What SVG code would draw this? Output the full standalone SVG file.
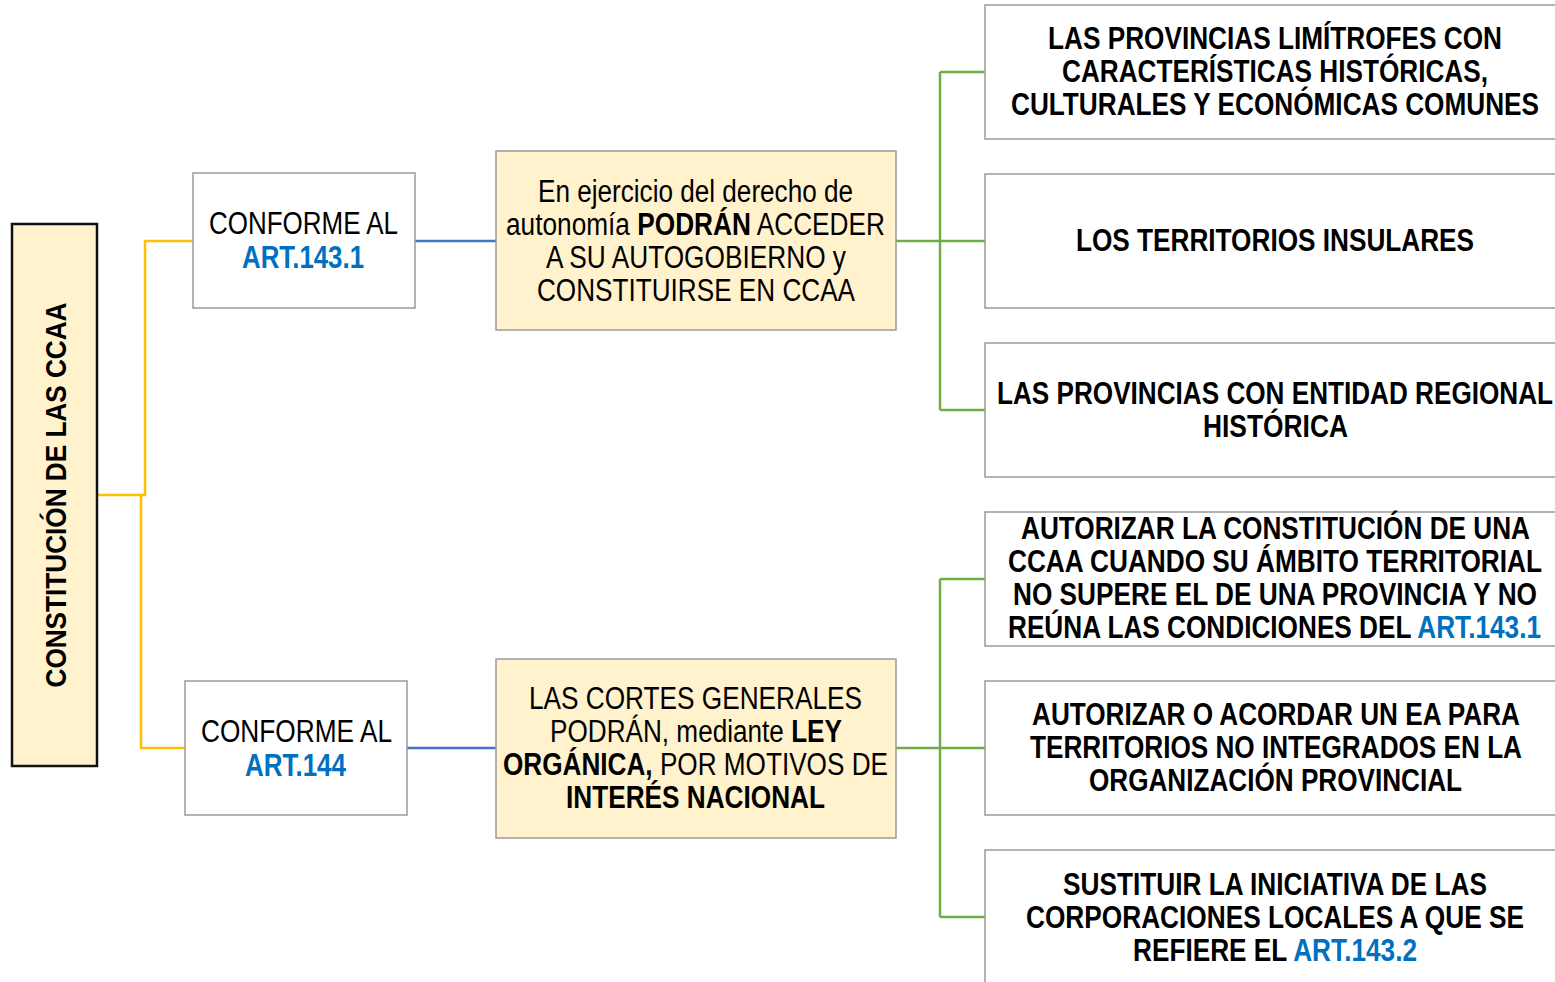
<svg xmlns="http://www.w3.org/2000/svg" width="1555" height="982" viewBox="0 0 1555 982">
<style>
text{font-family:"Liberation Sans",Arial,sans-serif;font-size:31px;fill:#000;text-anchor:middle;dominant-baseline:central}
.b{font-weight:bold}
.blue{fill:#0070C0;font-weight:bold}
.box{fill:#fff;stroke:#9a9a9a;stroke-width:1.5}
.ybox{fill:#FFF2CC;stroke:#9a9a9a;stroke-width:1.5}
.yl{fill:none;stroke:#FFC000;stroke-width:2.5}
.bl{fill:none;stroke:#4472C4;stroke-width:2.5}
.gl{fill:none;stroke:#70AD47;stroke-width:2.5}
</style>
<rect width="1555" height="982" fill="#fff"/>
<g id="connectors">
<path class="yl" d="M97,495 H145 V241 H193"/>
<path class="yl" d="M141,495 V748 H185"/>
<path class="bl" d="M415,241 H496"/>
<path class="bl" d="M407,748 H496"/>
<path class="gl" d="M896,241 H985 M940,72 V410 M940,72 H985 M940,410 H985"/>
<path class="gl" d="M896,748 H985 M940,579 V917 M940,579 H985 M940,917 H985"/>
</g>
<g id="root">
<rect x="12" y="224" width="85" height="542" fill="#FFF2CC" stroke="#111" stroke-width="2.5"/>
<text class="b" transform="translate(55,495) rotate(-90)" style="font-size:30px" textLength="385" lengthAdjust="spacingAndGlyphs">CONSTITUCIÓN DE LAS CCAA</text>
</g>
<g id="art1431">
<rect class="box" x="193" y="173" width="222" height="135"/>
<text x="303.5" y="223" textLength="189" lengthAdjust="spacingAndGlyphs">CONFORME AL</text>
<text class="blue" x="303" y="257" textLength="122" lengthAdjust="spacingAndGlyphs">ART.143.1</text>
</g>
<g id="podran">
<rect class="ybox" x="496" y="151" width="400" height="179"/>
<text x="695.5" y="191" textLength="315" lengthAdjust="spacingAndGlyphs">En ejercicio del derecho de</text>
<text x="695.5" y="224" textLength="379" lengthAdjust="spacingAndGlyphs">autonomía <tspan class="b">PODRÁN</tspan> ACCEDER</text>
<text x="696" y="257" textLength="300" lengthAdjust="spacingAndGlyphs">A SU AUTOGOBIERNO y</text>
<text x="696" y="290" textLength="318" lengthAdjust="spacingAndGlyphs">CONSTITUIRSE EN CCAA</text>
</g>
<g id="art144">
<rect class="box" x="185" y="681" width="222" height="134"/>
<text x="296.5" y="731" textLength="191" lengthAdjust="spacingAndGlyphs">CONFORME AL</text>
<text class="blue" x="295.5" y="765" textLength="101" lengthAdjust="spacingAndGlyphs">ART.144</text>
</g>
<g id="cortes">
<rect class="ybox" x="496" y="659" width="400" height="179"/>
<text x="695.5" y="698" textLength="333" lengthAdjust="spacingAndGlyphs">LAS CORTES GENERALES</text>
<text x="696" y="731" textLength="292" lengthAdjust="spacingAndGlyphs">PODRÁN, mediante <tspan class="b">LEY</tspan></text>
<text x="695.5" y="764" textLength="385" lengthAdjust="spacingAndGlyphs"><tspan class="b">ORGÁNICA,</tspan> POR MOTIVOS DE</text>
<text class="b" x="695.5" y="797" textLength="259" lengthAdjust="spacingAndGlyphs">INTERÉS NACIONAL</text>
</g>
<g id="limitrofes">
<rect class="box" x="985" y="5" width="580" height="134"/>
<text class="b" x="1275" y="38" textLength="454" lengthAdjust="spacingAndGlyphs">LAS PROVINCIAS LIMÍTROFES CON</text>
<text class="b" x="1275" y="71" textLength="426" lengthAdjust="spacingAndGlyphs">CARACTERÍSTICAS HISTÓRICAS,</text>
<text class="b" x="1275" y="104" textLength="528" lengthAdjust="spacingAndGlyphs">CULTURALES Y ECONÓMICAS COMUNES</text>
</g>
<g id="insulares">
<rect class="box" x="985" y="174" width="580" height="134"/>
<text class="b" x="1275" y="240" textLength="398" lengthAdjust="spacingAndGlyphs">LOS TERRITORIOS INSULARES</text>
</g>
<g id="entidad">
<rect class="box" x="985" y="343" width="580" height="134"/>
<text class="b" x="1275" y="393" textLength="556" lengthAdjust="spacingAndGlyphs">LAS PROVINCIAS CON ENTIDAD REGIONAL</text>
<text class="b" x="1275.5" y="426" textLength="145" lengthAdjust="spacingAndGlyphs">HISTÓRICA</text>
</g>
<g id="autorizar">
<rect class="box" x="985" y="512" width="580" height="134"/>
<text class="b" x="1275.5" y="528" textLength="509" lengthAdjust="spacingAndGlyphs">AUTORIZAR LA CONSTITUCIÓN DE UNA</text>
<text class="b" x="1275" y="561" textLength="534" lengthAdjust="spacingAndGlyphs">CCAA CUANDO SU ÁMBITO TERRITORIAL</text>
<text class="b" x="1275" y="594" textLength="524" lengthAdjust="spacingAndGlyphs">NO SUPERE EL DE UNA PROVINCIA Y NO</text>
<text class="b" x="1274.5" y="627" textLength="533" lengthAdjust="spacingAndGlyphs">REÚNA LAS CONDICIONES DEL <tspan class="blue">ART.143.1</tspan></text>
</g>
<g id="ea">
<rect class="box" x="985" y="681" width="580" height="134"/>
<text class="b" x="1276" y="714" textLength="488" lengthAdjust="spacingAndGlyphs">AUTORIZAR O ACORDAR UN EA PARA</text>
<text class="b" x="1276" y="747" textLength="492" lengthAdjust="spacingAndGlyphs">TERRITORIOS NO INTEGRADOS EN LA</text>
<text class="b" x="1275.5" y="780" textLength="373" lengthAdjust="spacingAndGlyphs">ORGANIZACIÓN PROVINCIAL</text>
</g>
<g id="sustituir">
<rect class="box" x="985" y="850" width="580" height="150"/>
<text class="b" x="1275" y="884" textLength="424" lengthAdjust="spacingAndGlyphs">SUSTITUIR LA INICIATIVA DE LAS</text>
<text class="b" x="1275" y="917" textLength="498" lengthAdjust="spacingAndGlyphs">CORPORACIONES LOCALES A QUE SE</text>
<text class="b" x="1275" y="950" textLength="284" lengthAdjust="spacingAndGlyphs">REFIERE EL <tspan class="blue">ART.143.2</tspan></text>
</g>
</svg>
